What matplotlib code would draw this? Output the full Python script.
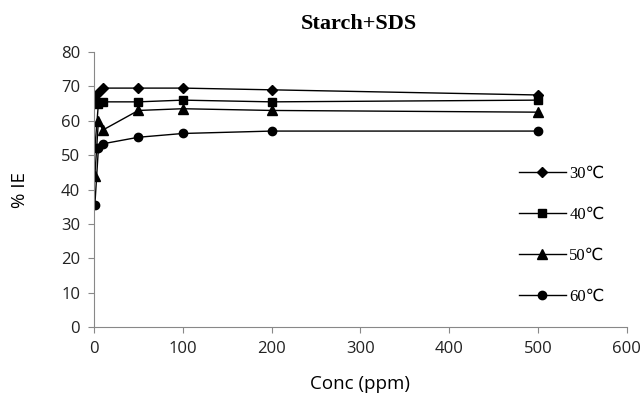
import matplotlib
matplotlib.use('Agg')
import matplotlib.pyplot as plt

# concentration (ppm) and inhibition efficiency (%) per temperature
conc = [1, 5, 10, 50, 100, 200, 500]
ie_30 = [66, 68, 69.5, 69.5, 69.5, 69, 67.5]
ie_40 = [52, 65, 65.5, 65.5, 66, 65.5, 66]
ie_50 = [44, 60, 57.3, 63, 63.5, 63, 62.5]
ie_60 = [35.5, 52, 53.3, 55.2, 56.3, 57, 57]
labels = ['30\u2103', '40\u2103', '50\u2103', '60\u2103']
markers = ['D', 's', '^', 'o']
msizes = [5, 6, 7, 6]

fig = plt.figure(figsize=(6.41, 3.94), dpi=100)
ax = fig.add_axes([0.1466, 0.170, 0.831, 0.698])

for ys, lab, m, ms in zip([ie_30, ie_40, ie_50, ie_60], labels, markers, msizes):
    ax.plot(conc, ys, color='black', lw=1, marker=m, ms=ms, label=lab)

ax.set_xlim(0, 600)
ax.set_ylim(0, 80)
ax.set_xticks(range(0, 601, 100))
ax.set_yticks(range(0, 81, 10))
for s in ['top', 'right']:
    ax.spines[s].set_visible(False)
for s in ['left', 'bottom']:
    ax.spines[s].set_color('#888888')
    ax.spines[s].set_linewidth(0.8)
ax.tick_params(direction='out', length=4, color='#888888', labelsize=12,
               labelcolor='#222222', pad=6)
for t in ax.get_xticklabels() + ax.get_yticklabels():
    t.set_family('Open Sans')

ax.set_xlabel('Conc (ppm)', fontsize=13.5, family='Open Sans', labelpad=13)
ax.set_ylabel('% IE', fontsize=13.5, family='Open Sans', labelpad=23)
fig.text(0.56, 0.94, 'Starch+SDS', ha='center', va='center', fontsize=16,
         fontweight='bold', family='Liberation Serif')

leg = ax.legend(loc='upper left', bbox_to_anchor=(0.77, 0.64), frameon=False,
                handlelength=2.8, labelspacing=1.5, handletextpad=0.2,
                prop={'family': ['Liberation Serif', 'DejaVu Sans'], 'size': 12})

fig.savefig('out.png', dpi=100)
